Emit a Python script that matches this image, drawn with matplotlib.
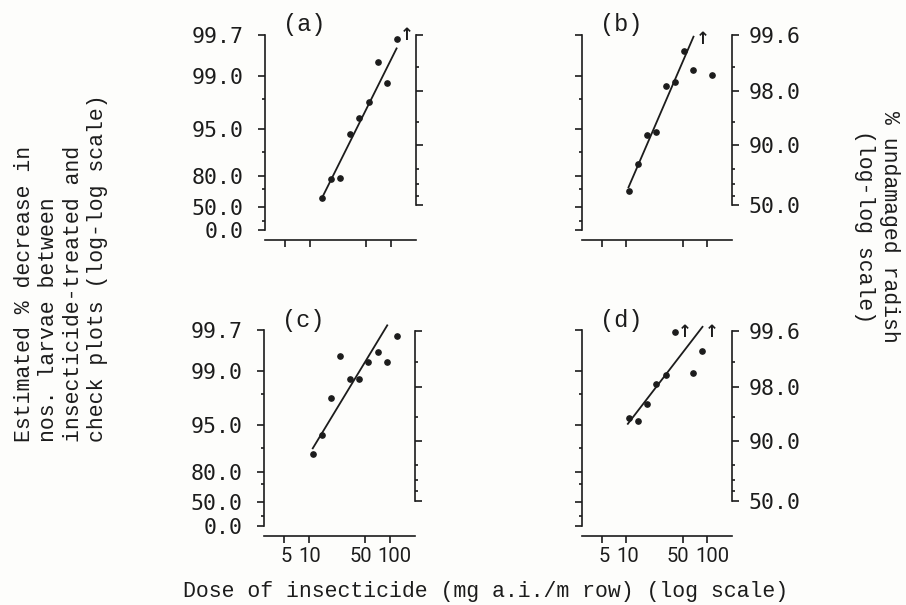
import numpy as np
import matplotlib
matplotlib.use("Agg")
import matplotlib.pyplot as plt
import matplotlib.transforms as mtransforms
from matplotlib.ticker import FixedLocator, FixedFormatter, NullLocator, NullFormatter

# ---------------- data ----------------
x_ticks = [5, 10, 50, 100]
x_tick_labels = ["5", "10", "50", "100"]

left_ticks = [0.0, 50.0, 80.0, 95.0, 99.0, 99.7]
left_tick_labels = ["0.0", "50.0", "80.0", "95.0", "99.0", "99.7"]
left_minor = [20.0, 70.0, 90.0, 98.0]

right_ticks = [50.0, 90.0, 98.0, 99.6]
right_tick_labels = ["50.0", "90.0", "98.0", "99.6"]
right_minor = [60.0, 70.0, 80.0, 95.0, 99.0]

# (a) % decrease in larvae (left scale)
dose_a = [14.0, 18.3, 23.8, 31.4, 40.8, 53.3, 69.5, 90.6, 118.0]
pct_a = [60.9, 77.7, 78.4, 94.2, 96.4, 97.8, 99.33, 98.75, 99.66]
arrow_dose_a = [157.0]
arrow_pct_a = [99.7]
fit_dose_a = [14.4, 118.0]
fit_pct_a = [62.0, 99.55]

# (b) % undamaged radish (right scale)
dose_b = [10.6, 13.9, 18.1, 23.6, 30.8, 40.2, 52.4, 68.1, 115.0]
pct_b = [64.2, 82.7, 92.6, 93.2, 98.27, 98.44, 99.37, 98.90, 98.75]
arrow_dose_b = [88.1]
arrow_pct_b = [99.55]
fit_dose_b = [10.6, 68.1]
fit_pct_b = [67.4, 99.58]

# (c) % decrease in larvae (left scale)
dose_c = [11.2, 14.4, 18.8, 24.5, 32.0, 41.7, 54.3, 71.0, 92.4, 121.6]
pct_c = [87.8, 93.2, 97.73, 99.36, 98.74, 98.73, 99.24, 99.43, 99.24, 99.64]
arrow_dose_c = []
arrow_pct_c = []
fit_dose_c = [11.2, 93.1]
fit_pct_c = [89.8, 99.74]

# (d) % undamaged radish (right scale)
dose_d = [10.6, 13.9, 18.1, 23.6, 30.8, 40.2, 68.1, 88.1]
pct_d = [94.88, 94.33, 96.63, 98.15, 98.58, 99.58, 98.63, 99.27]
arrow_dose_d = [52.4, 115.0]
arrow_pct_d = [99.58, 99.58]
fit_dose_d = [10.4, 88.1]
fit_pct_d = [93.88, 99.64]

# ------------- scale calibration (pixel heights above the x axis) -------------
LEFT_H = [9.7, 33.2, 64.0, 110.7, 164.5, 205.3]
RIGHT_H = [34.7, 94.9, 149.0, 205.0]
H_TOP = 215.0
XLABEL_SHIFT_PX = [2, 1, -5, 5]   # typewriter offsets of the dose labels

INK = "#1c1c1c"
BG = "#fdfdfb"


def _lin(x, xp, fp):
    x = np.asarray(x, float)
    xp = np.asarray(xp, float)
    fp = np.asarray(fp, float)
    y = np.interp(x, xp, fp)
    y = np.where(x < xp[0], fp[0] + (x - xp[0]) * (fp[1] - fp[0]) / (xp[1] - xp[0]), y)
    y = np.where(x > xp[-1], fp[-1] + (x - xp[-1]) * (fp[-1] - fp[-2]) / (xp[-1] - xp[-2]), y)
    return y


def loglog_scale(ticks, heights):
    t = np.asarray(ticks, float)
    h = np.asarray(heights, float)
    m = t >= 50
    zt = -np.log(-np.log(t[m] / 100.0))
    ht = h[m]
    h50 = ht[0]
    if (~m).any():
        slope = (h50 - h[~m][-1]) / (50.0 - t[~m][-1])
    else:
        slope = (ht[1] - ht[0]) / (zt[1] - zt[0]) / (0.5 * np.log(2.0)) / 100.0

    def fwd(p):
        with np.errstate(all="ignore"):
            p = np.asarray(p, float)
            q = np.clip(p, 50.0, 99.999999) / 100.0
            z = -np.log(-np.log(q))
            hi = _lin(z, zt, ht)
            lo = h50 + (p - 50.0) * slope
            return np.where(p >= 50.0, hi, lo)

    def inv(hv):
        with np.errstate(all="ignore"):
            hv = np.asarray(hv, float)
            z = _lin(hv, ht, zt)
            hi = 100.0 * np.exp(-np.exp(-z))
            lo = 50.0 + (hv - h50) / slope
            return np.where(hv >= h50, hi, lo)

    return fwd, inv


lfwd, linv = loglog_scale(left_ticks, LEFT_H)
rfwd, rinv = loglog_scale(right_ticks, RIGHT_H)

plt.rcParams["font.family"] = ["DejaVu Sans Mono"]
LABEL_FONT = "Liberation Mono"

fig = plt.figure(figsize=(9.06, 6.05), dpi=100, facecolor=BG)
W, H = 906.0, 605.0


def panel(rect_px, tag, left_labels, right_labels, x_labels, on_right,
          dose, pct, adose, apct, fdose, fpct):
    l, base, w = rect_px
    ax = fig.add_axes([l / W, (H - base) / H, w / W, H_TOP / H])
    ax.patch.set_visible(False)
    ax.set_xscale("log")
    ax.set_yscale("function", functions=(lfwd, linv))
    ax.set_xlim(2.8, 205)
    ax.set_ylim(float(linv(0.0)), float(linv(H_TOP)))

    ax2 = ax.twinx()
    ax2.patch.set_visible(False)
    ax2.set_yscale("function", functions=(rfwd, rinv))
    ax2.set_ylim(float(rinv(0.0)), float(rinv(H_TOP)))

    for s in ("top", "right"):
        ax.spines[s].set_visible(False)
    for s in ("top", "left", "bottom"):
        ax2.spines[s].set_visible(False)
    ax.spines["left"].set_bounds(left_ticks[0], left_ticks[-1])
    ax2.spines["right"].set_bounds(right_ticks[0], right_ticks[-1])
    for sp in (ax.spines["left"], ax.spines["bottom"], ax2.spines["right"]):
        sp.set_linewidth(1.2)
        sp.set_color(INK)

    ax.yaxis.set_major_locator(FixedLocator(left_ticks))
    ax.yaxis.set_minor_locator(FixedLocator(left_minor))
    ax.yaxis.set_minor_formatter(NullFormatter())
    if left_labels:
        ax.yaxis.set_major_formatter(FixedFormatter(left_tick_labels))
    else:
        ax.yaxis.set_major_formatter(NullFormatter())

    ax2.yaxis.set_major_locator(FixedLocator(right_ticks))
    ax2.yaxis.set_minor_locator(FixedLocator(right_minor))
    ax2.yaxis.set_minor_formatter(NullFormatter())
    if right_labels:
        ax2.yaxis.set_major_formatter(FixedFormatter(right_tick_labels))
    else:
        ax2.yaxis.set_major_formatter(NullFormatter())

    ax.xaxis.set_major_locator(FixedLocator(x_ticks))
    ax.xaxis.set_minor_locator(NullLocator())
    ax.xaxis.set_minor_formatter(NullFormatter())
    if x_labels:
        ax.xaxis.set_major_formatter(FixedFormatter(x_tick_labels))
    else:
        ax.xaxis.set_major_formatter(NullFormatter())

    ax.tick_params(axis="y", which="major", direction="out", length=5, width=1.2,
                   pad=10.5, labelsize=15.5, colors=INK)
    ax.tick_params(axis="y", which="minor", direction="out", length=2.5, width=1.2, colors=INK)
    ax2.tick_params(axis="y", which="major", direction="out", length=5, width=1.2,
                    pad=7, labelsize=15.5, colors=INK)
    ax2.tick_params(axis="y", which="minor", direction="out", length=2.5, width=1.2, colors=INK)
    ax.tick_params(axis="x", which="major", direction="out", length=5, width=1.2,
                   pad=3.5, labelsize=14.5, colors=INK)

    ticks = ax.xaxis.get_major_ticks(len(x_ticks))
    for tk, dx in zip(ticks, XLABEL_SHIFT_PX):
        tk.label1.set_fontfamily("Roboto")
        tk.label1.set_transform(tk.label1.get_transform() +
                                mtransforms.ScaledTranslation(dx / 100.0, 0, fig.dpi_scale_trans))

    tgt = ax2 if on_right else ax
    tgt.plot(fdose, fpct, "-", lw=1.3, color=INK, clip_on=False, zorder=3)
    tgt.plot(dose, pct, "o", ms=3.8, color=INK, clip_on=False, zorder=4)
    for d, p in zip(adose, apct):
        tgt.text(d, p, "\u2191", ha="center", va="center", fontsize=12,
                 fontweight="bold", color=INK, family=["DejaVu Sans"], zorder=4)

    ax.text(0.26, 1.0, tag, transform=ax.transAxes, ha="center", va="center",
            fontsize=17, color=INK, family=LABEL_FONT)
    return ax, ax2


panel((265, 240, 151), "(a)", True, False, False, False,
      dose_a, pct_a, arrow_dose_a, arrow_pct_a, fit_dose_a, fit_pct_a)
panel((582, 240, 150), "(b)", False, True, False, True,
      dose_b, pct_b, arrow_dose_b, arrow_pct_b, fit_dose_b, fit_pct_b)
panel((264, 535.5, 151), "(c)", True, False, True, False,
      dose_c, pct_c, arrow_dose_c, arrow_pct_c, fit_dose_c, fit_pct_c)
panel((582, 535.5, 150), "(d)", False, True, True, True,
      dose_d, pct_d, arrow_dose_d, arrow_pct_d, fit_dose_d, fit_pct_d)

fig.text(61 / W, (H - 442) / H,
         "Estimated % decrease in\nnos. larvae between\ninsecticide-treated and\ncheck plots (log-log scale)",
         rotation=90, ha="center", va="bottom", multialignment="left",
         fontsize=15.5, linespacing=1.2, color=INK, family=LABEL_FONT)
fig.text(877 / W, (H - 227) / H, "% undamaged radish\n(log-log scale)",
         rotation=-90, ha="center", va="center", multialignment="center",
         fontsize=15.5, linespacing=1.2, color=INK, family=LABEL_FONT)
fig.text(486 / W, (H - 591) / H, "Dose of insecticide (mg a.i./m row) (log scale)",
         ha="center", va="center", fontsize=15.5, color=INK, family=LABEL_FONT)

fig.savefig("out.png", dpi=100, facecolor=BG)
